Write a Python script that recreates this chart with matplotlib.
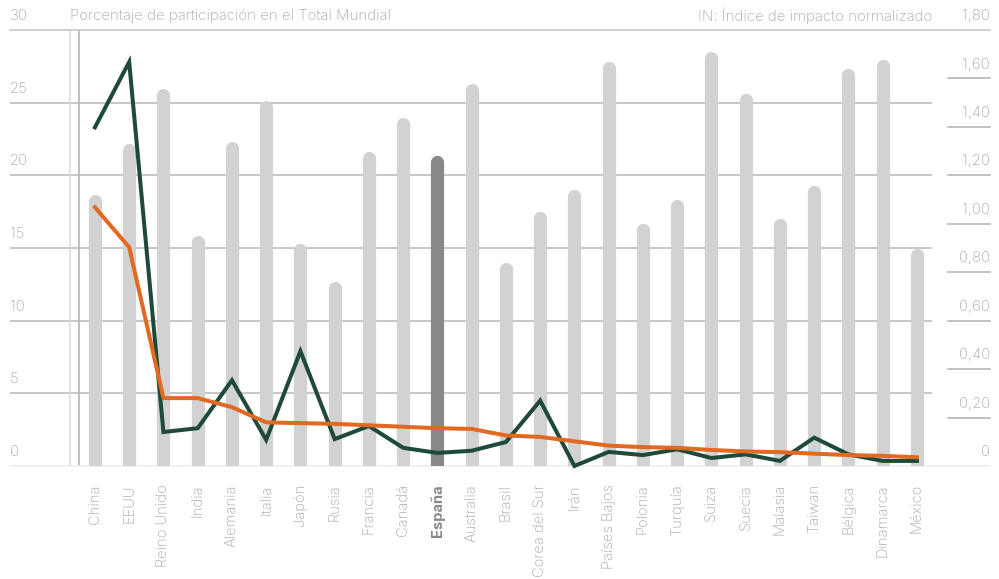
import matplotlib
matplotlib.use("Agg")
import matplotlib.pyplot as plt

paises = ["China", "EEUU", "Reino Unido", "India", "Alemania", "Italia", "Japón",
          "Rusia", "Francia", "Canadá", "España", "Australia", "Brasil",
          "Corea del Sur", "Irán", "Países Bajos", "Polonia", "Turquía", "Suiza",
          "Suecia", "Malasia", "Taiwan", "Bélgica", "Dinamarca", "México"]

# IN: índice de impacto normalizado (barras, eje derecho)
indice_in = [1.12, 1.33, 1.56, 0.95, 1.34, 1.51, 0.92, 0.76, 1.30, 1.44, 1.28,
             1.58, 0.84, 1.05, 1.14, 1.67, 1.00, 1.10, 1.71, 1.54, 1.02, 1.16,
             1.64, 1.68, 0.90]

# porcentaje de participación en el total mundial (líneas, eje izquierdo)
serie_naranja = [17.8, 15.05, 4.67, 4.67, 4.05, 3.0, 2.95, 2.9, 2.8, 2.7, 2.6,
                 2.55, 2.1, 2.0, 1.7, 1.4, 1.3, 1.25, 1.1, 1.0, 0.95, 0.85,
                 0.75, 0.7, 0.6]
serie_verde = [23.3, 27.8, 2.34, 2.6, 5.9, 1.8, 7.9, 1.85, 2.75, 1.25, 0.9,
               1.05, 1.65, 4.5, 0.0, 0.97, 0.75, 1.15, 0.55, 0.8, 0.35, 1.95,
               0.8, 0.35, 0.35]

ticks_pct = [0, 5, 10, 15, 20, 25, 30]
ticks_in = [0, 0.2, 0.4, 0.6, 0.8, 1.0, 1.2, 1.4, 1.6, 1.8]

plt.rcParams["font.family"] = ["Inter", "DejaVu Sans"]
plt.rcParams["font.weight"] = "light"
GRIS_TXT = "#a8a8a8"
GRIS_BARRA = "#d2d2d2"
GRIS_ESP = "#888888"
VERDE = "#1f4a39"
NARANJA = "#e06a21"

fig = plt.figure(figsize=(9.99, 5.79), dpi=100)
rect = [10 / 999, 113 / 579, 922 / 999, 436 / 579]
xs = list(range(len(paises)))
xlim = (-2.48, 24.44)

# fondo: rejilla
bg = fig.add_axes(rect)
bg.set_xlim(xlim)
bg.set_ylim(0, 30)
for t in ticks_pct[1:-1]:
    bg.axhline(t, color="#bdbdbd", lw=1.2)
bg.axvline(-0.73, color="#dddddd", lw=1.2)
bg.axvline(-0.47, color="#b5b5b5", lw=1.2)
bg.plot([0, 1.063], [30, 30], color="#c8c8c8", lw=1.2,
        transform=bg.get_yaxis_transform(), clip_on=False)
bg.plot([0, 1.063], [0, 0], color="#eeeeee", lw=1.2,
        transform=bg.get_yaxis_transform(), clip_on=False)
bg.set_xticks([])
bg.set_yticks([])
for s in bg.spines.values():
    s.set_visible(False)

# barras IN
ax_in = fig.add_axes(rect)
ax_in.patch.set_visible(False)
ax_in.set_xlim(xlim)
ax_in.set_ylim(0, 1.8)
cap = 0.027
colores = [GRIS_ESP if p == "España" else GRIS_BARRA for p in paises]
barras = ax_in.vlines(xs, -0.1, [v - cap for v in indice_in], colors=colores,
                      lw=9.5)
barras.set_capstyle("round")
for t in ticks_in[1:-1]:
    ax_in.plot([1.017, 1.063], [t, t], color="#b5b5b5", lw=1.2,
               transform=ax_in.get_yaxis_transform(), clip_on=False)
for t in ticks_in:
    lab = "0" if t == 0 else f"{t:.2f}".replace(".", ",")
    ax_in.annotate(lab, xy=(1.063, t), xycoords=ax_in.get_yaxis_transform(),
                   xytext=(0, 10), textcoords="offset points",
                   ha="right", va="center", color=GRIS_TXT, fontsize=10.8)
ax_in.set_yticks([])
ax_in.set_xticks([])
for s in ax_in.spines.values():
    s.set_visible(False)

# líneas de participación
ax = fig.add_axes(rect)
ax.patch.set_visible(False)
ax.set_xlim(xlim)
ax.set_ylim(0, 30)
ax.plot(xs, serie_verde, color=VERDE, lw=2.9, solid_joinstyle="miter",
        clip_on=False)
ax.plot(xs, serie_naranja, color=NARANJA, lw=2.9, solid_joinstyle="round",
        clip_on=False)
for t in ticks_pct:
    ax.annotate(str(t), xy=(0, t), xycoords=ax.get_yaxis_transform(),
                xytext=(0, 10), textcoords="offset points",
                ha="left", va="center", color=GRIS_TXT, fontsize=10.8)
ax.set_yticks([])
ax.set_xticks(xs)
ax.set_xticklabels(paises, rotation=90, color=GRIS_TXT, fontsize=10.6,
                   va="top", ha="center")
ax.tick_params(axis="x", length=0, pad=13)
for lab in ax.get_xticklabels():
    if lab.get_text() == "España":
        lab.set_fontweight("bold")
        lab.set_color(GRIS_ESP)
for s in ax.spines.values():
    s.set_visible(False)

fig.text(70 / 999, 1 - 16 / 579, "Porcentaje de participación en el Total Mundial",
         ha="left", va="center", color=GRIS_TXT, fontsize=10.8)
fig.text(932 / 999, 1 - 16 / 579, "IN: Índice de impacto normalizado",
         ha="right", va="center", color=GRIS_TXT, fontsize=10.8)

fig.savefig("out.png", dpi=100)
